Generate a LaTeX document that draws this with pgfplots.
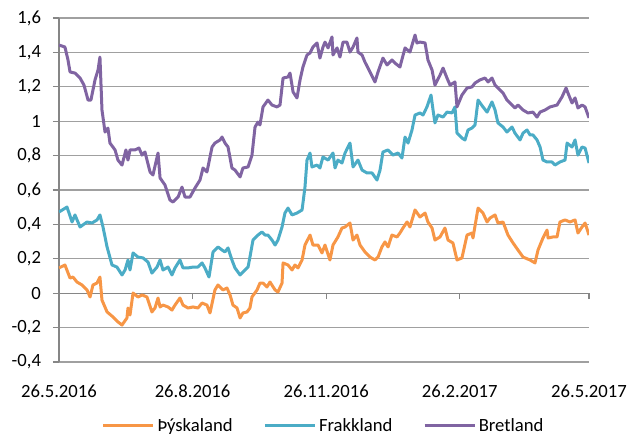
\documentclass[border=0pt]{standalone}
\usepackage{fontspec}
\setmainfont{Carlito}
\usepackage{pgfplots}
\pgfplotsset{compat=1.18}
\definecolor{gerorange}{HTML}{F79646}
\definecolor{frablue}{HTML}{4BACC6}
\definecolor{brepurple}{HTML}{8064A2}
\definecolor{gridgray}{HTML}{A0A0A0}
\definecolor{axgray}{HTML}{868686}

\begin{document}
\begin{tikzpicture}
\begin{axis}[
  scale only axis,
  width=397.5pt, height=258pt,
  xmin=0, xmax=365, ymin=-0.4, ymax=1.6,
  axis x line=middle, axis y line=left,
  hide obscured x ticks=false,
  axis line style={-, axgray, line width=0.9pt},
  xtick={0,92,184,276,365},
  xticklabels={26.5.2016,26.8.2016,26.11.2016,26.2.2017,26.5.2017},
  ytick={-0.4,-0.2,0,0.2,0.4,0.6,0.8,1,1.2,1.4,1.6},
  yticklabels={{-0,4},{-0,2},0,{0,2},{0,4},{0,6},{0,8},1,{1,2},{1,4},{1,6}},
  ymajorgrids,
  major grid style={gridgray, line width=0.8pt},
  tick align=outside, major tick length=4.5pt,
  tick style={axgray, line width=0.8pt},
  tick label style={font=\fontsize{14}{16}\selectfont, text=black},
  x tick label style={yshift=-61pt},
  y tick label style={xshift=-5.5pt},
  legend style={at={(0.5,-0.186)}, anchor=center, draw=none,
    font=\fontsize{14}{16}\selectfont,
    /tikz/every even column/.append style={column sep=21pt}},
  legend columns=-1,
  legend image code/.code={\draw[#1] (0pt,0pt) -- (37.5pt,0pt);},
  every axis plot/.append style={line width=2.25pt, line join=round},
]
% Þýskaland
\addplot[gerorange] coordinates {
(0,0.147)(4.1,0.164)(7.6,0.088)(9.6,0.094)(12.4,0.065)(15.8,0.048)(19.3,0.019)
(21.4,-0.022)(23.4,0.048)(26.2,0.059)(28.2,0.094)(29.6,-0.040)(33.1,-0.109)
(37.2,-0.138)(40.6,-0.167)(43.4,-0.185)(46.8,-0.144)(47.5,-0.086)(48.9,-0.127)
(51.0,0.001)(54.4,-0.022)(57.2,-0.010)(60.6,-0.022)(64.0,-0.109)(66.1,-0.086)
(68.2,-0.028)(69.6,-0.080)(71.6,-0.069)(75.1,-0.080)(77.8,-0.098)(79.9,-0.069)
(83.3,-0.028)(85.4,-0.069)(88.8,-0.086)(92.3,-0.080)(95.7,-0.086)(98.5,-0.057)
(101.9,-0.069)(104.0,-0.115)(107.4,0.019)(109.5,0.048)(112.9,0.019)(115.7,0.030)
(117.8,-0.010)(119.8,-0.069)(122.6,-0.086)(124.7,-0.144)(126.7,-0.115)
(129.5,-0.109)(131.5,-0.086)(132.9,-0.022)(136.4,0.019)(138.4,0.059)(140.5,0.059)
(143.2,0.036)(145.3,0.065)(148.8,0.019)(150.8,0.007)(153.6,0.059)(154.3,0.176)
(157.7,0.164)(160.5,0.135)(162.5,0.164)(164.6,0.147)(167.4,0.193)(169.4,0.280)
(172.9,0.338)(174.9,0.280)(178.4,0.280)(181.1,0.234)(183.2,0.280)(186.6,0.193)
(188.7,0.280)(192.1,0.327)(194.9,0.379)(197.0,0.385)(200.4,0.408)(202.5,0.309)
(205.2,0.338)(207.3,0.280)(210.7,0.240)(214.2,0.210)(217.6,0.193)(219.7,0.210)
(222.4,0.269)(224.5,0.298)(226.6,0.269)(229.3,0.338)(232.8,0.327)(234.8,0.350)
(236.9,0.379)(239.7,0.414)(241.7,0.385)(245.2,0.484)(248.6,0.443)(252.1,0.466)
(254.1,0.414)(256.9,0.379)(258.9,0.309)(262.4,0.327)(265.8,0.379)(267.9,0.309)
(271.3,0.292)(274.1,0.193)(277.5,0.205)(281.0,0.338)(284.4,0.350)(285.1,0.321)
(288.6,0.495)(292.0,0.466)(294.8,0.414)(296.8,0.437)(300.3,0.455)(302.3,0.408)
(305.8,0.414)(309.2,0.338)(312.7,0.292)(316.1,0.251)(319.6,0.210)(324.4,0.193)
(327.8,0.176)(329.9,0.251)(333.3,0.321)(336.1,0.367)(336.8,0.321)(340.2,0.327)
(343.0,0.327)(345.0,0.414)(348.5,0.426)(351.9,0.414)(355.4,0.426)(357.4,0.350)
(360.2,0.385)(362.3,0.408)(365,0.338)
};
\addlegendentry{Þýskaland}
% Frakkland
\addplot[frablue] coordinates {
(0,0.472)(5.5,0.501)(9.0,0.414)(11.0,0.455)(14.5,0.385)(19.3,0.414)(22.7,0.408)
(26.2,0.426)(28.2,0.455)(30.3,0.385)(33.1,0.269)(36.5,0.164)(39.9,0.152)
(43.4,0.106)(45.5,0.135)(47.5,0.193)(48.9,0.135)(51.0,0.234)(54.4,0.210)
(57.9,0.205)(61.3,0.181)(64.0,0.117)(67.5,0.152)(69.6,0.193)(71.6,0.135)
(75.1,0.152)(77.8,0.106)(79.9,0.147)(83.3,0.193)(85.4,0.147)(88.8,0.147)
(92.3,0.152)(95.7,0.152)(98.5,0.176)(100.5,0.147)(103.3,0.094)(106.1,0.240)
(109.5,0.269)(112.3,0.251)(114.3,0.240)(116.4,0.263)(119.1,0.193)(121.2,0.147)
(124.7,0.106)(128.1,0.135)(130.2,0.152)(131.5,0.210)(133.6,0.309)(137.0,0.338)
(139.8,0.356)(141.9,0.338)(143.9,0.338)(146.7,0.309)(148.8,0.280)(150.8,0.309)
(153.6,0.385)(155.6,0.466)(157.7,0.495)(160.5,0.455)(163.9,0.466)(167.4,0.484)
(169.4,0.617)(170.8,0.774)(172.9,0.815)(174.2,0.734)(177.7,0.745)(179.7,0.728)
(181.8,0.792)(185.3,0.774)(188.7,0.815)(190.1,0.728)(192.1,0.774)(194.9,0.757)
(197.0,0.815)(200.4,0.873)(202.5,0.734)(205.9,0.774)(208.7,0.716)(212.1,0.699)
(215.6,0.699)(219.0,0.658)(221.1,0.716)(223.1,0.821)(226.6,0.833)(230.0,0.803)
(233.5,0.815)(236.2,0.786)(238.3,0.908)(240.4,0.873)(243.1,0.949)(245.2,1.036)
(248.6,1.048)(250.7,1.036)(253.4,1.083)(256.2,1.152)(257.6,1.065)(258.9,0.990)
(261.0,1.036)(264.5,1.024)(267.2,1.053)(270.7,1.048)(272.7,1.083)(274.1,0.931)
(277.5,0.902)(279.6,0.891)(281.7,0.949)(284.4,0.960)(286.5,0.978)(288.6,1.123)
(292.0,1.083)(294.8,1.053)(298.2,1.112)(300.3,1.065)(302.3,0.990)(305.8,0.966)
(308.5,0.937)(312.0,0.966)(314.0,0.931)(317.5,0.891)(319.6,0.931)(322.3,0.949)
(324.4,0.920)(326.4,0.920)(329.2,0.891)(331.3,0.850)(333.3,0.774)(336.1,0.763)
(339.5,0.763)(341.6,0.745)(345.0,0.763)(348.5,0.774)(349.9,0.873)(353.3,0.850)
(355.4,0.891)(357.4,0.803)(360.2,0.850)(362.3,0.844)(365,0.757)
};
\addlegendentry{Frakkland}
% Bretland
\addplot[brepurple] coordinates {
(0,1.443)(4.1,1.431)(6.2,1.356)(7.6,1.286)(11.0,1.280)(14.5,1.251)(17.2,1.210)
(20.0,1.123)(22.0,1.123)(24.8,1.240)(26.9,1.298)(28.2,1.373)(29.6,1.065)
(31.7,0.937)(33.7,0.960)(35.1,0.873)(38.6,0.833)(40.6,0.774)(43.4,0.745)
(46.1,0.833)(47.5,0.774)(48.9,0.833)(52.3,0.833)(55.1,0.844)(57.2,0.803)
(59.2,0.821)(62.7,0.705)(64.7,0.687)(68.2,0.815)(69.6,0.670)(73.0,0.629)
(76.4,0.542)(78.5,0.530)(82.0,0.559)(84.7,0.617)(86.8,0.559)(90.2,0.559)
(93.7,0.612)(97.1,0.658)(99.2,0.728)(101.9,0.705)(105.4,0.850)(107.4,0.873)
(110.9,0.891)(112.3,0.908)(114.3,0.873)(116.4,0.850)(119.1,0.728)(121.2,0.716)
(124.7,0.676)(126.7,0.728)(130.2,0.734)(132.9,0.803)(135.0,0.966)(137.0,0.995)
(138.4,0.978)(140.5,1.083)(143.9,1.123)(146.7,1.094)(150.1,1.083)(152.2,1.094)
(154.3,1.251)(157.7,1.257)(159.1,1.280)(161.2,1.170)(163.9,1.135)(166.0,1.240)
(168.0,1.315)(170.8,1.385)(172.9,1.397)(174.9,1.431)(177.7,1.455)(179.7,1.367)
(181.8,1.431)(183.2,1.460)(185.3,1.426)(188.0,1.490)(188.7,1.385)(191.5,1.426)
(193.5,1.373)(195.6,1.460)(198.3,1.460)(200.4,1.402)(202.5,1.431)(205.2,1.484)
(205.9,1.402)(208.7,1.385)(210.7,1.344)(214.2,1.286)(217.6,1.228)(219.7,1.286)
(223.1,1.367)(225.9,1.327)(229.3,1.356)(231.4,1.338)(234.8,1.315)(238.3,1.426)
(241.7,1.402)(245.2,1.501)(246.5,1.455)(248.6,1.460)(252.1,1.455)(254.1,1.356)
(256.9,1.298)(258.9,1.210)(262.4,1.268)(264.5,1.309)(267.2,1.251)(269.3,1.210)
(272.7,1.228)(274.1,1.083)(277.5,1.152)(281.0,1.193)(284.4,1.199)(286.5,1.222)
(289.9,1.240)(293.4,1.251)(295.5,1.228)(298.2,1.251)(300.3,1.210)(303.7,1.181)
(305.8,1.164)(308.5,1.123)(312.0,1.094)(314.0,1.077)(316.1,1.094)(319.6,1.065)
(323.0,1.048)(326.4,1.053)(329.2,1.024)(331.3,1.053)(334.7,1.065)(338.2,1.083)
(343.0,1.094)(346.4,1.141)(349.2,1.193)(350.5,1.164)(353.3,1.106)(355.4,1.135)
(357.4,1.077)(360.2,1.094)(362.3,1.083)(365,1.019)
};
\addlegendentry{Bretland}
\end{axis}
\pgfresetboundingbox
\path[use as bounding box] (-44.25pt,-55.5pt) rectangle (427.5pt,271.5pt);
\end{tikzpicture}
\end{document}
